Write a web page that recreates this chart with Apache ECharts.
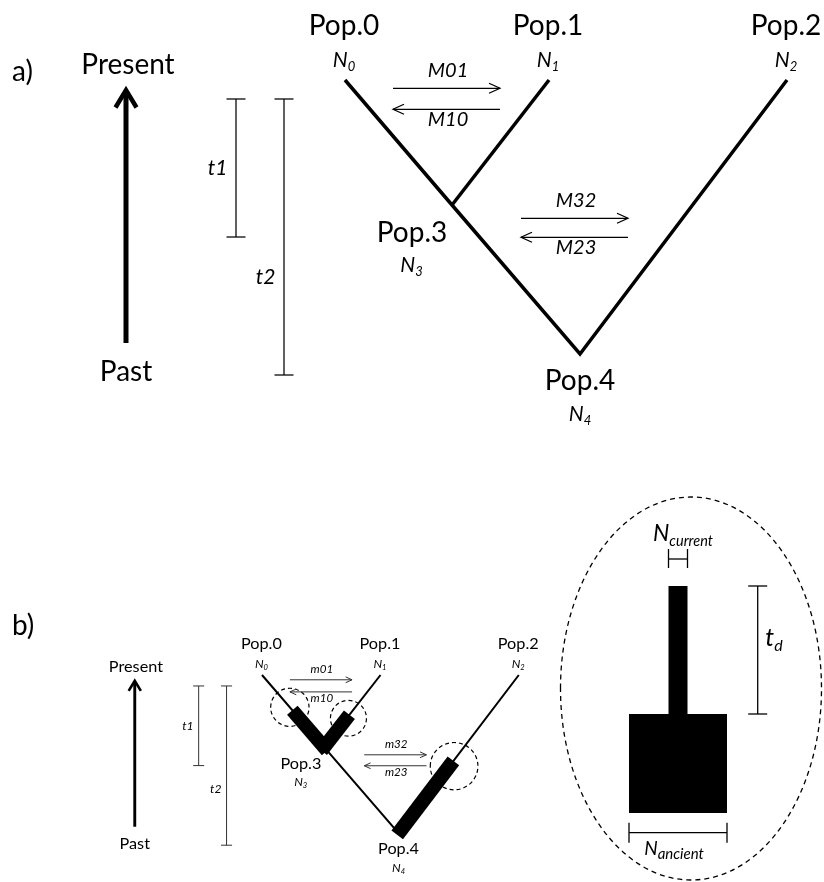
<!DOCTYPE html>
<html><head><meta charset="utf-8">
<script src="https://cdn.jsdelivr.net/npm/echarts@6/dist/echarts.min.js"></script>
<style>html,body{margin:0;padding:0;background:#fff}#main{width:824px;height:882px}</style>
</head><body><div id="main"></div>
<script>
// ---------------- data ----------------
// populations of the tree model (layout units of panel a; y = time, past is down)
const popNames   = ['Pop.0', 'Pop.1', 'Pop.2', 'Pop.3', 'Pop.4'];
const popSizeSub = ['0', '1', '2', '3', '4'];
const popX       = [345, 549, 787, 452, 580];
const popTime    = [80, 80, 80, 205, 354];
const popParent  = [3, 3, 4, 4, -1];
const branchPaths = [[0, 3, 4, 2], [1, 3]];

// migration arrows
const migNamesA = ['M01', 'M10', 'M32', 'M23'];
const migNamesB = ['m01', 'm10', 'm32', 'm23'];
const migFrom   = [393, 500, 521, 628];
const migTo     = [500, 393, 628, 521];
const migTime   = [88.3, 109.3, 218.3, 237.3];

// divergence time bars
const timeNames     = ['t1', 't2'];
const timeBarX      = [236, 284];
const timeBarStart  = [99, 99];
const timeBarEnd    = [237, 375];
const timeLabelTime = [168.5, 277];

// time direction arrow
const timeWords = ['Present', 'Past'];
const timeArrowX = [126];
const timeArrowSpan = [90, 343];

// panel b: branches with a size change (thick bands) and dashed highlight circles
const bandPop    = [0, 1, 2];
const bandStart  = [141, 149, 229];
const bandEnd    = [211, 211, 357];
const bandWidth  = [24, 24, 25];
const circleTime = [136, 155, 238];
const circleDx   = [0, 3, 8];
const circleR    = [33, 31, 41];

// inset: size change model
const nCurrent = 19;
const nAncient = 98;
const tD = 128;
const ancientSpan = 99;

// ---------------- helpers ----------------
const FONT = 'Lato';
const mctx = document.createElement('canvas').getContext('2d');
function tw(s, size, italic) {
  mctx.font = (italic ? 'italic ' : '') + size + 'px ' + FONT;
  return mctx.measureText(s).width;
}
function txt(x, y, s, size, italic, align) {
  const al = align || 'center';
  return { type: 'text', x: x, y: y, silent: true,
    style: { text: s, fontFamily: FONT, fontSize: size, fontStyle: italic ? 'italic' : 'normal',
      fill: '#000', align: al, verticalAlign: 'middle', textAlign: al, textVerticalAlign: 'middle' } };
}
function subTxt(cx, cy, main, s, size, ssize) {
  const w1 = tw(main, size, true), w2 = tw(s, ssize, true);
  const x0 = cx - (w1 + w2) / 2;
  return [txt(x0, cy, main, size, true, 'left'),
          txt(x0 + w1, cy + size * 0.32, s, ssize, true, 'left')];
}
function line(p, q, w, c) {
  return { type: 'line', shape: { x1: p[0], y1: p[1], x2: q[0], y2: q[1] },
    style: { stroke: c || '#000', lineWidth: w, lineCap: 'butt' } };
}
function pointOnBranch(i, t) {
  const j = popParent[i];
  const f = (t - popTime[i]) / (popTime[j] - popTime[i]);
  return [popX[i] + f * (popX[j] - popX[i]), t];
}

function panelSeries(g, k, isB) {
  const base = { type: 'custom', coordinateSystem: 'cartesian2d', xAxisIndex: g, yAxisIndex: g,
    silent: true, animation: false, clip: false };
  const thin = isB ? 1 : 1.25;
  const thinC = isB ? '#333' : '#000';
  const S = [];
  // tree branches
  S.push(Object.assign({}, base, {
    data: branchPaths.map(p => [popX[p[0]], popTime[p[0]]]),
    renderItem: (params, api) => {
      const path = branchPaths[params.dataIndex];
      return { type: 'polyline', shape: { points: path.map(i => api.coord([popX[i], popTime[i]])) },
        style: { stroke: '#000', fill: null, lineWidth: 3.5 * k, lineJoin: 'miter', lineCap: 'butt' } };
    }
  }));
  // thick bands (panel b)
  if (isB) {
    S.push(Object.assign({}, base, {
      data: bandPop.map((p, i) => pointOnBranch(p, bandStart[i])),
      renderItem: (params, api) => {
        const i = params.dataIndex, p = bandPop[i];
        const a = api.coord(pointOnBranch(p, bandStart[i]));
        const b = api.coord(pointOnBranch(p, bandEnd[i]));
        const dx = b[0] - a[0], dy = b[1] - a[1], L = Math.hypot(dx, dy);
        const hw = api.size([bandWidth[i], 0])[0] / 2;
        const nx = -dy / L * hw, ny = dx / L * hw;
        return { type: 'polygon', shape: { points: [[a[0] + nx, a[1] + ny], [b[0] + nx, b[1] + ny], [b[0] - nx, b[1] - ny], [a[0] - nx, a[1] - ny]] },
          style: { fill: '#000' } };
      }
    }));
    S.push(Object.assign({}, base, {
      data: bandPop.map((p, i) => pointOnBranch(p, circleTime[i])),
      renderItem: (params, api) => {
        const i = params.dataIndex, p = bandPop[i];
        const c0 = pointOnBranch(p, circleTime[i]);
        const c = api.coord([c0[0] + circleDx[i], c0[1]]);
        const sz = api.size([circleR[i], circleR[i]]);
        return { type: 'ellipse', shape: { cx: c[0], cy: c[1], rx: sz[0], ry: sz[1] },
          style: { fill: null, stroke: '#000', lineWidth: 1.2, lineDash: [4, 3] } };
      }
    }));
  }
  // population labels
  S.push(Object.assign({}, base, {
    data: popNames.map((n, i) => [popX[i], popTime[i]]),
    renderItem: (params, api) => {
      const i = params.dataIndex;
      const x = popX[i], t = popTime[i];
      let nameAt, nAt;
      if (popTime[i] === Math.min.apply(null, popTime)) { nameAt = [x - 1, t - 54]; nAt = [x - 1, t - 19.5]; }
      else if (popParent[i] >= 0) { nameAt = [x - 40, t + 28]; nAt = [x - 40.5, t + 60]; }
      else { nameAt = [x, t + 27]; nAt = [x, t + 60]; }
      const p1 = api.coord(nameAt), p2 = api.coord(nAt);
      return { type: 'group', children: [txt(p1[0], p1[1], popNames[i], 28 * k, false)]
        .concat(subTxt(p2[0], p2[1], 'N', popSizeSub[i], 21 * k, 13 * k)) };
    }
  }));
  // migration arrows
  const migNames = isB ? migNamesB : migNamesA;
  S.push(Object.assign({}, base, {
    data: migFrom.map((x, i) => [x, migTime[i]]),
    renderItem: (params, api) => {
      const i = params.dataIndex;
      const a = api.coord([migFrom[i], migTime[i]]), b = api.coord([migTo[i], migTime[i]]);
      const dir = Math.sign(b[0] - a[0]);
      const hl = 11 * k, hh = 5 * k;
      const lp = api.coord([(migFrom[i] + migTo[i]) / 2 + 1.5, migTime[i] + (dir > 0 ? -17.5 : 10.5)]);
      return { type: 'group', children: [
        line(a, b, thin, thinC),
        { type: 'polyline', shape: { points: [[b[0] - dir * hl, b[1] - hh], b, [b[0] - dir * hl, b[1] + hh]] },
          style: { stroke: thinC, fill: null, lineWidth: thin } },
        txt(lp[0], lp[1], migNames[i], 20 * k, true)
      ] };
    }
  }));
  // time bars
  S.push(Object.assign({}, base, {
    data: timeBarX.map((x, i) => [x, timeBarStart[i]]),
    renderItem: (params, api) => {
      const i = params.dataIndex;
      const a = api.coord([timeBarX[i], timeBarStart[i]]), b = api.coord([timeBarX[i], timeBarEnd[i]]);
      const cw = api.size([9.5, 0])[0];
      const lp = api.coord([timeBarX[i] - 18.5, timeLabelTime[i]]);
      return { type: 'group', children: [
        line(a, b, thin, thinC),
        line([a[0] - cw, a[1]], [a[0] + cw, a[1]], thin, thinC),
        line([b[0] - cw, b[1]], [b[0] + cw, b[1]], thin, thinC),
        txt(lp[0], lp[1], timeNames[i], 21 * k, true)
      ] };
    }
  }));
  // present/past arrow
  S.push(Object.assign({}, base, {
    data: [[timeArrowX[0], timeArrowSpan[0]]],
    renderItem: (params, api) => {
      const x = timeArrowX[0];
      const tip = api.coord([x, timeArrowSpan[0]]), bot = api.coord([x, timeArrowSpan[1]]);
      const armL = api.coord([x - 10.5, timeArrowSpan[0] + 17.5]), armR = api.coord([x + 10.5, timeArrowSpan[0] + 17.5]);
      const shaftTop = api.coord([x, timeArrowSpan[0] + 2]);
      const pPresent = api.coord([x + 2, 65]), pPast = api.coord([x, 372]);
      return { type: 'group', children: [
        line(shaftTop, bot, 5 * k),
        { type: 'polyline', shape: { points: [armL, tip, armR] },
          style: { stroke: '#000', fill: null, lineWidth: 4.5 * k, lineJoin: 'miter' } },
        txt(pPresent[0], pPresent[1], timeWords[0], 28 * k, false),
        txt(pPast[0], pPast[1], timeWords[1], 28 * k, false)
      ] };
    }
  }));
  return S;
}

// inset series
const insetSeries = {
  type: 'custom', coordinateSystem: 'cartesian2d', xAxisIndex: 2, yAxisIndex: 2,
  silent: true, animation: false, clip: false,
  data: [[0, 0]],
  renderItem: (params, api) => {
    const C = (x, y) => api.coord([x, y]);
    const rect = (x0, y0, x1, y1) => {
      const a = C(x0, y0), b = C(x1, y1);
      return { type: 'rect', shape: { x: Math.min(a[0], b[0]), y: Math.min(a[1], b[1]),
        width: Math.abs(b[0] - a[0]), height: Math.abs(b[1] - a[1]) }, style: { fill: '#000' } };
    };
    const w = 1.3;
    const ec = C(13, 102.5), es = api.size([130.5, 191.5]);
    const tdX = 79.7, cap = 9.5;
    const ncY = -27, nanY = 246.7;
    const kids = [
      { type: 'ellipse', shape: { cx: ec[0], cy: ec[1], rx: es[0], ry: es[1] },
        style: { fill: null, stroke: '#000', lineWidth: 1.3, lineDash: [5, 4] } },
      rect(-nCurrent / 2, 0, nCurrent / 2, tD + 1),
      rect(-nAncient / 2, tD, nAncient / 2, tD + ancientSpan),
      // td bar
      line(C(tdX, 0), C(tdX, tD), w), line(C(tdX - cap, 0), C(tdX + cap, 0), w), line(C(tdX - cap, tD), C(tdX + cap, tD), w),
      // N current bar
      line(C(-nCurrent / 2, ncY), C(nCurrent / 2, ncY), w),
      line(C(-nCurrent / 2, ncY - 10), C(-nCurrent / 2, ncY + 9), w),
      line(C(nCurrent / 2, ncY - 10), C(nCurrent / 2, ncY + 9), w),
      // N ancient bar
      line(C(-nAncient / 2, nanY), C(nAncient / 2, nanY), w),
      line(C(-nAncient / 2, nanY - 10), C(-nAncient / 2, nanY + 10), w),
      line(C(nAncient / 2, nanY - 10), C(nAncient / 2, nanY + 10), w)
    ];
    const pTd = C(96, 52), pNc = C(5, -52.5), pNa = C(-4, 262.4);
    return { type: 'group', children: kids
      .concat(subTxt(pTd[0], pTd[1], 't', 'd', 25, 16))
      .concat(subTxt(pNc[0], pNc[1], 'N', 'current', 23, 14.5))
      .concat(subTxt(pNa[0], pNa[1], 'N', 'ancient', 19, 15)) };
  }
};

// panel b is a scaled copy of panel a's layout
const SX = 0.581, SY = 0.577;
const axisX = (g, min, max) => ({ type: 'value', gridIndex: g, min: min, max: max, show: false, splitLine: { show: false } });
const axisY = (g, min, max) => ({ type: 'value', gridIndex: g, min: min, max: max, inverse: true, show: false, splitLine: { show: false } });

const option = {
  animation: false,
  backgroundColor: '#fff',
  grid: [
    { left: 0, top: 0, width: 824, height: 440, containLabel: false, outerBoundsMode: 'none' },
    { left: 262 - 345 * SX, top: 675 - 80 * SY, width: 824 * SX, height: 440 * SY, containLabel: false, outerBoundsMode: 'none' },
    { left: 560, top: 480, width: 264, height: 402, containLabel: false, outerBoundsMode: 'none' }
  ],
  xAxis: [axisX(0, 0, 824), axisX(1, 0, 824), axisX(2, -118, 146)],
  yAxis: [axisY(0, 0, 440), axisY(1, 0, 440), axisY(2, -106, 296)],
  graphic: [
    { type: 'text', left: 12, top: 58, style: { text: 'a)', fontFamily: FONT, fontSize: 28, fill: '#000' } },
    { type: 'text', left: 12, top: 612, style: { text: 'b)', fontFamily: FONT, fontSize: 28, fill: '#000' } }
  ],
  series: panelSeries(0, 1, false).concat(panelSeries(1, 0.58, true)).concat([insetSeries])
};

const chart = echarts.init(document.getElementById('main'), null, { renderer: 'canvas' });
chart.setOption(option);
</script>
</body></html>
